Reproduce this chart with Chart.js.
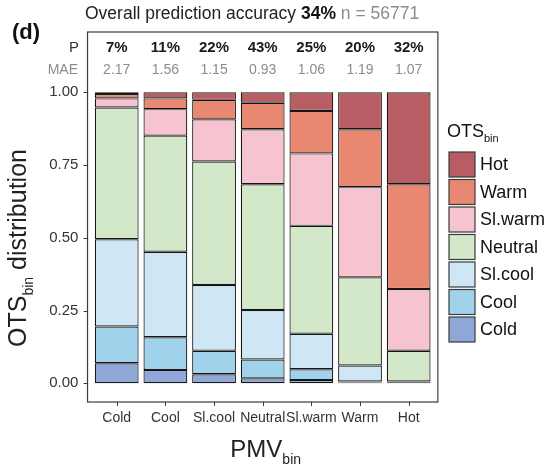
<!DOCTYPE html>
<html>
<head>
<meta charset="utf-8">
<script src="https://cdn.jsdelivr.net/npm/chart.js@4/dist/chart.umd.min.js"></script>
<style>
  html, body { margin: 0; padding: 0; background: #fff; }
  #wrap { width: 553px; height: 469px; }
</style>
</head>
<body>
<div id="wrap"><canvas id="ots-chart" width="553" height="469"></canvas></div>
<script>
// PMV bins along the x axis
const pmvBins = ['Cold', 'Cool', 'Sl.cool', 'Neutral', 'Sl.warm', 'Warm', 'Hot'];

// OTS share per PMV bin (bottom of stack first)
const otsCold   = [0.069, 0.046, 0.031, 0.017, 0.011, 0.003, 0.001];
const otsCool   = [0.126, 0.112, 0.081, 0.065, 0.037, 0.003, 0.001];
const otsSlCool = [0.300, 0.294, 0.226, 0.170, 0.122, 0.055, 0.004];
const otsNeutral= [0.453, 0.399, 0.424, 0.432, 0.371, 0.303, 0.106];
const otsSlWarm = [0.031, 0.091, 0.145, 0.189, 0.249, 0.310, 0.212];
const otsWarm   = [0.015, 0.037, 0.067, 0.091, 0.146, 0.199, 0.360];
const otsHot    = [0.006, 0.021, 0.026, 0.036, 0.064, 0.127, 0.316];

// per-bin header rows
const accuracy = ['7%', '11%', '22%', '43%', '25%', '20%', '32%'];
const maeValues = ['2.17', '1.56', '1.15', '0.93', '1.06', '1.19', '1.07'];

const yTicks = [0, 0.25, 0.5, 0.75, 1];

const FONT = "'Liberation Sans', Arial, Helvetica, sans-serif";

const series = [
  { label: 'Cold',    data: otsCold,    color: '#8fa8d8' },
  { label: 'Cool',    data: otsCool,    color: '#a0d2ec' },
  { label: 'Sl.cool', data: otsSlCool,  color: '#cfe7f5' },
  { label: 'Neutral', data: otsNeutral, color: '#d3e7c9' },
  { label: 'Sl.warm', data: otsSlWarm,  color: '#f6c4d0' },
  { label: 'Warm',    data: otsWarm,    color: '#e98871' },
  { label: 'Hot',     data: otsHot,     color: '#b95d64' }
];

// draws the panel box, tick marks, header rows, titles and the legend
const decorations = {
  id: 'decorations',
  afterDraw(chart) {
    const ctx = chart.ctx;
    const area = chart.chartArea;
    const xs = chart.scales.x, ys = chart.scales.y;
    const catW = (area.right - area.left) / pmvBins.length;
    const left = area.left - catW * 0.1;
    const right = area.right + catW * 0.1;

    ctx.save();
    ctx.strokeStyle = '#3a3a3a';
    ctx.lineWidth = 1.2;
    ctx.strokeRect(left, area.top, right - left, area.bottom - area.top);

    // tick marks
    ctx.lineWidth = 1;
    ctx.beginPath();
    yTicks.forEach(v => {
      const py = Math.round(ys.getPixelForValue(v)) + 0.5;
      ctx.moveTo(left - 4, py);
      ctx.lineTo(left, py);
    });
    pmvBins.forEach((b, i) => {
      const px = Math.round(xs.getPixelForValue(i)) + 0.5;
      ctx.moveTo(px, area.bottom);
      ctx.lineTo(px, area.bottom + 4);
    });
    ctx.stroke();

    // P / MAE rows
    ctx.textBaseline = 'middle';
    ctx.textAlign = 'right';
    ctx.fillStyle = '#333';
    ctx.font = '15px ' + FONT;
    ctx.fillText('P', 79, 48);
    ctx.fillStyle = '#8c8c8c';
    ctx.font = '14px ' + FONT;
    ctx.fillText('MAE', 78, 70);
    ctx.textAlign = 'center';
    pmvBins.forEach((b, i) => {
      const px = xs.getPixelForValue(i);
      ctx.fillStyle = '#1a1a1a';
      ctx.font = 'bold 15px ' + FONT;
      ctx.fillText(accuracy[i], px, 48);
      ctx.fillStyle = '#8c8c8c';
      ctx.font = '14px ' + FONT;
      ctx.fillText(maeValues[i], px, 70);
    });

    // title line
    ctx.textAlign = 'left';
    ctx.textBaseline = 'alphabetic';
    let tx = 85;
    const parts = [
      ['Overall prediction accuracy ', '17.5px ', '#222'],
      ['34%', 'bold 17.5px ', '#111'],
      [' n = 56771', '17.5px ', '#8c8c8c']
    ];
    parts.forEach(p => {
      ctx.font = p[1] + FONT;
      ctx.fillStyle = p[2];
      ctx.fillText(p[0], tx, 19);
      tx += ctx.measureText(p[0]).width;
    });

    // panel letter
    ctx.font = 'bold 22px ' + FONT;
    ctx.fillStyle = '#111';
    ctx.fillText('(d)', 12, 39);

    // x axis title with subscript
    ctx.fillStyle = '#222';
    ctx.font = '24px ' + FONT;
    const wMain = ctx.measureText('PMV').width;
    ctx.font = '14px ' + FONT;
    const wSub = ctx.measureText('bin').width;
    let xt = (left + right) / 2 + 3 - (wMain + wSub) / 2;
    ctx.font = '24px ' + FONT;
    ctx.fillText('PMV', xt, 457);
    ctx.font = '14px ' + FONT;
    ctx.fillText('bin', xt + wMain, 464);

    // y axis title, rotated
    ctx.save();
    ctx.translate(26, 248);
    ctx.rotate(-Math.PI / 2);
    ctx.font = '25px ' + FONT;
    const a = ctx.measureText('OTS').width;
    const c = ctx.measureText(' distribution').width;
    ctx.font = '14px ' + FONT;
    const bw = ctx.measureText('bin').width;
    let sx = -(a + bw + c) / 2;
    ctx.font = '25px ' + FONT;
    ctx.fillText('OTS', sx, 0);
    ctx.font = '14px ' + FONT;
    ctx.fillText('bin', sx + a, 7);
    ctx.font = '25px ' + FONT;
    ctx.fillText(' distribution', sx + a + bw, 0);
    ctx.restore();

    // legend
    ctx.font = '18px ' + FONT;
    ctx.fillStyle = '#111';
    ctx.fillText('OTS', 447, 137);
    const lw = ctx.measureText('OTS').width;
    ctx.font = '11px ' + FONT;
    ctx.fillText('bin', 447 + lw, 142);
    const legendItems = series.slice().reverse();
    legendItems.forEach((s, i) => {
      const top = 152 + i * 27.5;
      ctx.fillStyle = s.color;
      ctx.fillRect(449, top, 26, 25);
      ctx.strokeStyle = '#3a3a3a';
      ctx.lineWidth = 1.2;
      ctx.strokeRect(449, top, 26, 25);
      ctx.fillStyle = '#111';
      ctx.font = '18px ' + FONT;
      ctx.textBaseline = 'middle';
      ctx.fillText(s.label, 480, top + 13.5);
      ctx.textBaseline = 'alphabetic';
    });
    ctx.restore();
  }
};

const data = {
  labels: pmvBins,
  datasets: series.map(s => ({
    label: s.label,
    data: s.data,
    backgroundColor: s.color,
    borderColor: '#161616',
    borderWidth: 1.2,
    borderSkipped: false,
    barPercentage: 0.9,
    categoryPercentage: 1.0
  }))
};

const config = {
  type: 'bar',
  data: data,
  options: {
    responsive: false,
    animation: false,
    devicePixelRatio: 1,
    layout: { padding: { left: 0, right: 120, top: 32, bottom: 0 } },
    plugins: {
      legend: { display: false },
      tooltip: { enabled: false },
      title: { display: false }
    },
    scales: {
      x: {
        stacked: true,
        grid: { display: false, drawTicks: false },
        border: { display: false },
        ticks: {
          color: '#333',
          font: { family: FONT, size: 14 },
          padding: 8,
          maxRotation: 0,
          autoSkip: false
        },
        afterFit: scale => { scale.height = 67; }
      },
      y: {
        stacked: true,
        min: -0.0643,
        max: 1.2072,
        grid: { display: false, drawTicks: false },
        border: { display: false },
        afterBuildTicks: scale => {
          scale.ticks = yTicks.map(v => ({ value: v }));
        },
        ticks: {
          color: '#333',
          font: { family: FONT, size: 15 },
          padding: 14,
          callback: v => Number(v).toFixed(2)
        },
        afterFit: scale => { scale.width = 92.4; }
      }
    }
  },
  plugins: [decorations]
};

new Chart(document.getElementById('ots-chart'), config);
</script>
</body>
</html>
